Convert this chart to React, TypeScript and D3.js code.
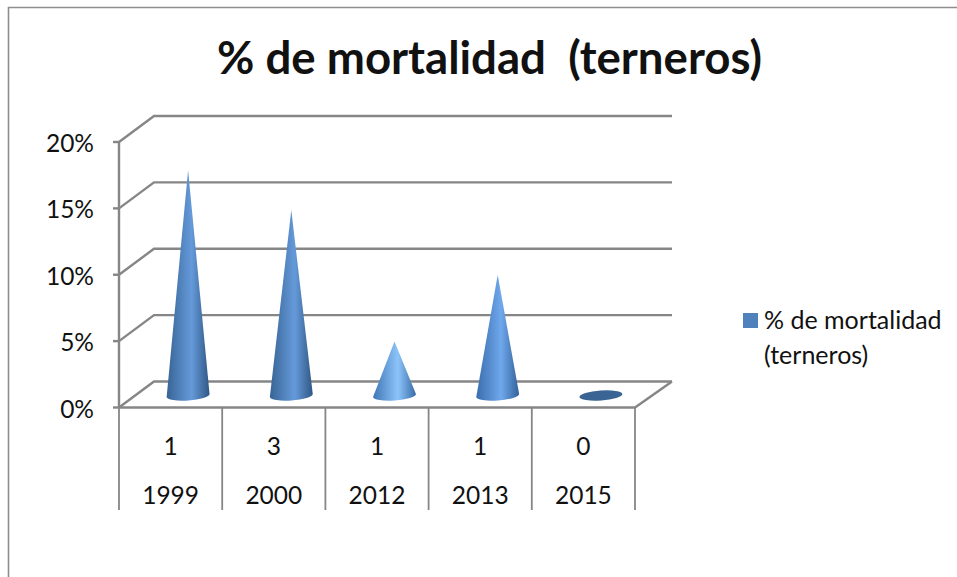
import React from "react";
import { range, scaleBand, scaleLinear } from "d3";

const years = ["1999", "2000", "2012", "2013", "2015"];
const counts = ["1", "3", "1", "1", "0"];
const mortality = [16.9, 13.9, 4, 9, 0];
const yTicks = [0, 5, 10, 15, 20];

// shading per cone: edge, highlight, far edge
const shades = [
  ["#386495", "#659ada", "#2f5784"],
  ["#386495", "#659ada", "#2f5784"],
  ["#3f76b5", "#8cc4fa", "#386ba6"],
  ["#3a6dad", "#6fa8ec", "#33619a"],
  ["#3a6494", "#3a6494", "#3a6494"],
];

const w = 957;
const h = 577;
const FONT = "Lato, 'Open Sans', sans-serif";
const GREY = "#868686";
const TEXT = "#111";

// fake 3d offset of the back wall
const depth = { x: 35, y: -26 };

const x = scaleBand<string>().domain(years).range([119, 635]);
const y = scaleLinear().domain([0, 20]).range([407.5, 142]);

const coneRx = 21.5;
const coneRy = 5;
const tilt = (-4 * Math.PI) / 180;

function conePath(cx: number, cy: number, tipY: number) {
  const dx = coneRx * Math.cos(tilt);
  const dy = coneRx * Math.sin(tilt);
  return (
    `M${cx - dx},${cy - dy} L${cx},${tipY} L${cx + dx},${cy + dy} ` +
    `A${coneRx},${coneRy} -4 0 1 ${cx - dx},${cy - dy} Z`
  );
}

export default function App() {
  const bottom = 510;
  const edges = [...years.map((d) => x(d) as number), x.range()[1]];

  return (
    <svg
      width={w}
      height={h}
      style={{ position: "absolute", left: 0, top: 0, background: "#fff" }}
    >
      <defs>
        {range(years.length).map((i) => (
          <linearGradient key={i} id={`cone-${i}`} x1="0" x2="1" y1="0" y2="0">
            <stop offset="0%" stopColor={shades[i][0]} />
            <stop offset="58%" stopColor={shades[i][1]} />
            <stop offset="100%" stopColor={shades[i][2]} />
          </linearGradient>
        ))}
      </defs>

      {/* outer frame, only top and left visible */}
      <path d={`M8.5,${h} V7.5 H${w}`} fill="none" stroke="#8e8e8e" strokeWidth={1.6} />

      <text
        x={489.5}
        y={74}
        textAnchor="middle"
        fontFamily={FONT}
        fontWeight={700}
        fontSize={45.6}
        fill={TEXT}
        style={{ whiteSpace: "pre" }}
      >
        % de mortalidad  (terneros)
      </text>

      {/* grid on back wall + side wall */}
      {yTicks.map((t) => (
        <g key={t}>
          <path
            d={`M${x.range()[0]},${y(t)} L${x.range()[0] + depth.x},${y(t) + depth.y} H${x.range()[1] + depth.x + 2}`}
            fill="none"
            stroke={GREY}
            strokeWidth={2.4}
          />
          <line x1={x.range()[0] - 6} x2={x.range()[0]} y1={y(t)} y2={y(t)} stroke={GREY} strokeWidth={2.4} />
          <text
            x={94}
            y={y(t) + 10}
            textAnchor="end"
            fontFamily={FONT}
            fontSize={24.5}
            fill={TEXT}
          >
            {t}%
          </text>
        </g>
      ))}

      {/* y axis line */}
      <line x1={119} x2={119} y1={y(20)} y2={y(0)} stroke={GREY} strokeWidth={2.4} />

      {/* floor */}
      <path
        d={`M${x.range()[0]},${y(0)} H${x.range()[1]} L${x.range()[1] + depth.x + 2},${y(0) + depth.y}`}
        fill="none"
        stroke={GREY}
        strokeWidth={2.4}
      />

      {/* category separators */}
      {edges.map((e) => (
        <line key={e} x1={e} x2={e} y1={y(0)} y2={bottom} stroke={GREY} strokeWidth={1.8} />
      ))}

      {/* cones stand half way into the depth */}
      {years.map((yr, i) => {
        const cx = (x(yr) as number) + x.bandwidth() / 2 + depth.x / 2;
        const cy = y(0) + depth.y / 2 + 1;
        const v = mortality[i];
        if (v === 0) {
          return (
            <ellipse
              key={yr}
              cx={cx}
              cy={cy}
              rx={coneRx}
              ry={coneRy}
              transform={`rotate(-4 ${cx} ${cy})`}
              fill={shades[i][1]}
            />
          );
        }
        return <path key={yr} d={conePath(cx, cy, y(v) + depth.y / 2)} fill={`url(#cone-${i})`} />;
      })}

      {/* multi level category labels */}
      {years.map((yr, i) => {
        const cx = (x(yr) as number) + x.bandwidth() / 2;
        return (
          <g key={yr} fontFamily={FONT} fontSize={24.5} fill={TEXT} textAnchor="middle">
            <text x={cx} y={455}>{counts[i]}</text>
            <text x={cx} y={504}>{yr}</text>
          </g>
        );
      })}

      {/* legend */}
      <rect x={743} y={313} width={15} height={15} fill="#4f81bd" />
      <g fontFamily={FONT} fontSize={25} fill={TEXT}>
        <text x={764} y={329}>% de mortalidad</text>
        <text x={764} y={364}>(terneros)</text>
      </g>
    </svg>
  );
}
